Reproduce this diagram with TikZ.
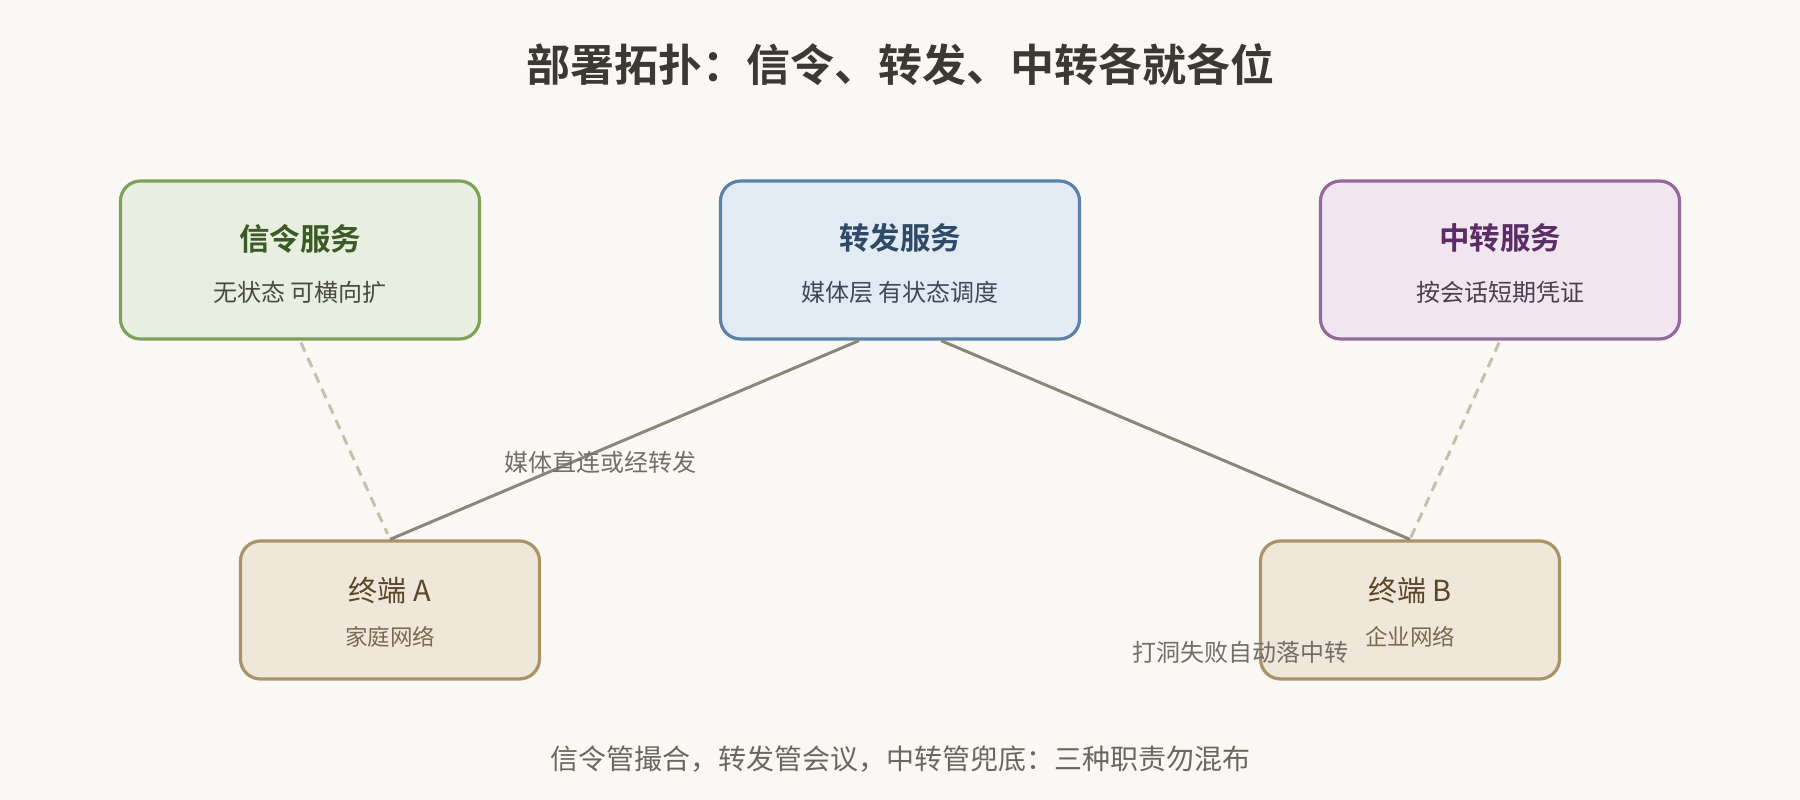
\documentclass[tikz,border=0pt]{standalone}
\usepackage{fontspec}
\setmainfont{Noto Sans CJK SC}[BoldFont={Noto Sans CJK SC Bold}]
\usetikzlibrary{calc}
\definecolor{bg}{HTML}{F9F8F4}
\definecolor{titlec}{HTML}{3A3934}
\definecolor{gfill}{HTML}{E8EFE1}
\definecolor{gdraw}{HTML}{7DA05A}
\definecolor{gtext}{HTML}{3C5A26}
\definecolor{gsub}{HTML}{4A4A40}
\definecolor{bfill}{HTML}{E2EAF4}
\definecolor{bdraw}{HTML}{5B82A8}
\definecolor{btext}{HTML}{2E4A66}
\definecolor{bsub}{HTML}{3F4A56}
\definecolor{pfill}{HTML}{F1E5F0}
\definecolor{pdraw}{HTML}{95699E}
\definecolor{ptext}{HTML}{5A2E64}
\definecolor{psub}{HTML}{4A3F4F}
\definecolor{tfill}{HTML}{EFE8DA}
\definecolor{tdraw}{HTML}{A89468}
\definecolor{ttext}{HTML}{5A4628}
\definecolor{tsub}{HTML}{7A6A50}
\definecolor{linec}{HTML}{8A877A}
\definecolor{dashc}{HTML}{C6C0A9}
\definecolor{labelc}{HTML}{707068}
\definecolor{footc}{HTML}{6B675E}
\tikzset{
  svcbox/.style={draw, line width=3.2pt, rounded corners=20pt, minimum width=359pt, minimum height=158pt, inner sep=0pt},
  termbox/.style={draw=tdraw, fill=tfill, line width=3.2pt, rounded corners=20pt, minimum width=299pt, minimum height=138pt, inner sep=0pt},
  svctitle/.style={font=\fontsize{30.5}{36}\selectfont\bfseries, inner sep=0pt},
  svcsub/.style={font=\fontsize{24}{29}\selectfont, inner sep=0pt},
  termtitle/.style={font=\fontsize{29}{34}\selectfont, text=ttext, inner sep=0pt},
  termsub/.style={font=\fontsize{22.5}{27}\selectfont, text=tsub, inner sep=0pt},
  solidlink/.style={draw=linec, line width=3pt},
  dashlink/.style={draw=dashc, line width=3pt, dash pattern=on 10pt off 7pt},
  edgelabel/.style={font=\fontsize{24}{28}\selectfont, text=labelc, inner sep=0pt},
}
\begin{document}
\begin{tikzpicture}[x=1pt, y=-1pt]
\fill[bg] (0,0) rectangle (1800,800);
\useasboundingbox (0,0) rectangle (1800,800);

\node[font=\fontsize{44}{52}\selectfont\bfseries, text=titlec, inner sep=0pt] (title) at (900,65) {部署拓扑：信令、转发、中转各就各位};

% service boxes
\node[svcbox, draw=gdraw, fill=gfill] (sig) at (300,260) {};
\node[svctitle, text=gtext] (sigt) at (300,239) {信令服务};
\node[svcsub, text=gsub] (sigs) at (300,292) {无状态 可横向扩};

\node[svcbox, draw=bdraw, fill=bfill] (fwd) at (900,260) {};
\node[svctitle, text=btext] (fwdt) at (900,238) {转发服务};
\node[svcsub, text=bsub] (fwds) at (900,292) {媒体层 有状态调度};

\node[svcbox, draw=pdraw, fill=pfill] (rly) at (1500,260) {};
\node[svctitle, text=ptext] (rlyt) at (1500,238) {中转服务};
\node[svcsub, text=psub] (rlys) at (1500,292) {按会话短期凭证};

% terminals
\node[termbox] (ta) at (390,610) {};
\node[termtitle] (tat) at (390,590) {终端 A};
\node[termsub] (tas) at (390,637) {家庭网络};

\node[termbox] (tb) at (1410,610) {};
\node[termtitle] (tbt) at (1410,590) {终端 B};
\node[termsub] (tbs) at (1410,637) {企业网络};

% connectors
\coordinate (fwdL) at ($(fwd.south)+(-41,0)$);
\coordinate (fwdR) at ($(fwd.south)+(41,0)$);
\draw[dashlink, shorten <=2pt, shorten >=6pt] (sig.south) -- (ta.north);
\draw[dashlink, shorten <=2pt, shorten >=2pt] (rly.south) -- (tb.north);
\draw[solidlink] (fwdL) -- (ta.north);
\draw[solidlink] (fwdR) -- (tb.north);

% labels
\node[edgelabel] (lab1) at (600,462) {媒体直连或经转发};
\node[edgelabel] (lab2) at (1240,652) {打洞失败自动落中转};

\node[font=\fontsize{28}{33}\selectfont, text=footc, inner sep=0pt] (foot) at (900,759) {信令管撮合，转发管会议，中转管兜底：三种职责勿混布};
\end{tikzpicture}
\end{document}
